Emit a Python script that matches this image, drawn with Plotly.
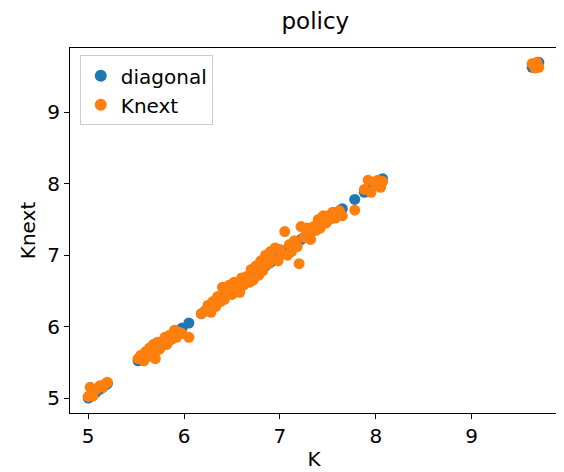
import plotly.graph_objects as go

K = [5.00, 5.02, 5.05, 5.08, 5.12, 5.15, 5.18, 5.20,
     5.52, 5.55, 5.58, 5.60, 5.62, 5.64, 5.66, 5.68, 5.70, 5.72, 5.74, 5.76, 5.78, 5.80, 5.82, 5.85, 5.87, 5.90, 5.92, 5.95, 5.98, 6.05,
     6.18, 6.22, 6.25, 6.28, 6.30, 6.33, 6.35, 6.38, 6.40, 6.42, 6.45, 6.47, 6.50, 6.52, 6.55, 6.58, 6.60, 6.62, 6.65, 6.68, 6.70, 6.72, 6.75, 6.78, 6.80, 6.82, 6.85, 6.88, 6.90, 6.92, 6.95, 6.98,
     7.00, 7.02, 7.05, 7.08, 7.10, 7.12, 7.15, 7.18, 7.20, 7.22, 7.25, 7.28, 7.30, 7.32, 7.35, 7.38, 7.40, 7.42, 7.45, 7.48, 7.50,
     7.52, 7.55, 7.58, 7.60, 7.62, 7.65, 7.78, 7.88, 7.92, 7.95, 7.98, 8.00, 8.02, 8.05, 8.07,
     9.63, 9.66, 9.68, 9.70]
Knext = [5.02, 5.15, 5.03, 5.12, 5.17, 5.15, 5.20, 5.22,
         5.55, 5.60, 5.52, 5.65, 5.58, 5.70, 5.62, 5.75, 5.55, 5.78, 5.68, 5.72, 5.80, 5.85, 5.75, 5.88, 5.82, 5.95, 5.85, 5.92, 5.90, 5.85,
         6.18, 6.22, 6.30, 6.20, 6.35, 6.28, 6.42, 6.35, 6.55, 6.38, 6.50, 6.58, 6.45, 6.62, 6.55, 6.48, 6.68, 6.58, 6.70, 6.62, 6.80, 6.65, 6.85, 6.72, 6.92, 6.78, 7.00, 6.88, 7.05, 6.95, 7.10, 6.92,
         7.08, 7.02, 7.33, 7.00, 7.15, 7.05, 7.20, 7.12, 6.88, 7.40, 7.25, 7.38, 7.30, 7.22, 7.40, 7.35, 7.50, 7.38, 7.55, 7.45, 7.55,
         7.50, 7.60, 7.52, 7.58, 7.62, 7.55, 7.63, 7.92, 8.05, 7.88, 8.02, 7.98, 8.05, 7.95, 8.03,
         9.68, 9.62, 9.70, 9.63]

fig = go.Figure()
fig.add_trace(go.Scatter(x=K, y=K, mode="markers", name="diagonal",
                         marker=dict(color="#1f77b4", size=11)))
fig.add_trace(go.Scatter(x=K, y=Knext, mode="markers", name="Knext",
                         marker=dict(color="#ff7f0e", size=11)))
ax = dict(showgrid=False, zeroline=False, showline=True, linecolor="black", mirror=True,
          ticks="outside", ticklen=5, tickcolor="black", tickfont=dict(size=20, color="black"),
          title_font=dict(size=20, color="black"))
fig.update_layout(
    width=564, height=472, plot_bgcolor="white", paper_bgcolor="white",
    font=dict(family="DejaVu Sans", color="black"),
    margin=dict(l=62, r=14, t=40, b=67, autoexpand=False),
    title=dict(text="policy", x=0.545, xanchor="center", y=0.99, yanchor="top", font=dict(size=23)),
    xaxis=dict(ax, title=dict(text="K", standoff=4), range=[4.81, 9.9], tickvals=[5, 6, 7, 8, 9], automargin=False),
    yaxis=dict(ax, title=dict(text="Knext", standoff=6), range=[4.79, 9.9], tickvals=[5, 6, 7, 8, 9], automargin=False),
    legend=dict(x=0.02, y=0.98, xanchor="left", yanchor="top", bordercolor="#cccccc", borderwidth=1,
                font=dict(size=20), bgcolor="white", itemsizing="constant"),
)
fig.write_html("out.html")
